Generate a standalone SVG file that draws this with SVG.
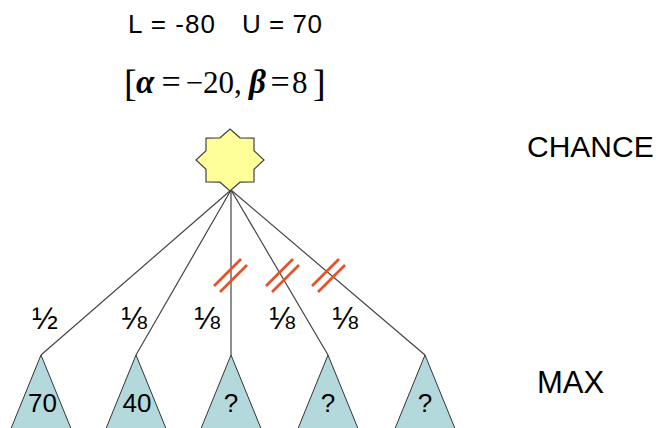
<svg xmlns="http://www.w3.org/2000/svg" width="665" height="428" viewBox="0 0 665 428">
<style>
.t{font-family:"Liberation Sans",Arial,sans-serif;fill:#000}
.m{font-family:"Liberation Serif","Times New Roman",serif;fill:#000;font-size:31px}
.g{font-style:italic;font-weight:bold;font-size:33px}
.eq{font-size:34px}
.edge{stroke:#444;stroke-width:1.2;fill:none}
.tri{fill:#b3d9dc;stroke:#333;stroke-width:1}
.cut{stroke:#e8502a;stroke-width:2.6;fill:none}
</style>
<rect width="665" height="428" fill="#fff"/>
<g id="header">
<text class="t" x="128" y="33" font-size="26" textLength="87" lengthAdjust="spacing">L = -80</text>
<text class="t" x="242" y="33" font-size="26" textLength="80" lengthAdjust="spacing">U = 70</text>
<g class="m">
<text x="124" y="96" font-size="38">[</text>
<text x="136" y="93" class="g">α</text>
<text x="171" y="93" class="eq" text-anchor="middle">=</text>
<text x="194.5" y="93" text-anchor="middle">−</text>
<text x="203" y="93">20,</text>
<text x="249" y="93" class="g">β</text>
<text x="280" y="93" class="eq" text-anchor="middle">=</text>
<text x="292" y="93">8</text>
<text x="313" y="96" font-size="38">]</text>
</g>
</g>
<g id="connectors">
<line class="edge" x1="231" y1="190" x2="41" y2="355"/>
<line class="edge" x1="231" y1="190" x2="136" y2="355"/>
<line class="edge" x1="231" y1="190" x2="231" y2="355"/>
<line class="edge" x1="231" y1="190" x2="328" y2="355"/>
<line class="edge" x1="231" y1="190" x2="425" y2="355"/>
</g>
<g id="cuts">
<line class="cut" x1="214" y1="286" x2="241" y2="259"/>
<line class="cut" x1="220" y1="292" x2="247" y2="265"/>
<line class="cut" x1="266" y1="286" x2="293" y2="259"/>
<line class="cut" x1="272" y1="292" x2="299" y2="265"/>
<line class="cut" x1="312" y1="286" x2="339" y2="259"/>
<line class="cut" x1="318" y1="292" x2="345" y2="265"/>
</g>
<g id="chance">
<polygon points="230,129 240,137.8 254,138.1 254,150.8 264,160 254,169.2 254,181.9 240,182.2 230,191 220,182.2 206,181.9 206,169.2 196,160 206,150.8 206,138.1 220,137.8" fill="#ffff99" stroke="#444" stroke-width="1.2"/>
</g>
<g id="probs" class="t" font-size="31">
<text x="32" y="329" class="t">½</text>
<text x="121" y="329" class="t">⅛</text>
<text x="194" y="329" class="t">⅛</text>
<text x="269" y="329" class="t">⅛</text>
<text x="332" y="329" class="t">⅛</text>
</g>
<g id="max1"><polygon class="tri" points="41,355 10,431 72,431"/><text class="t" x="42.5" y="412" font-size="26" text-anchor="middle">70</text></g>
<g id="max2"><polygon class="tri" points="136,355 105,431 167,431"/><text class="t" x="137" y="412" font-size="26" text-anchor="middle">40</text></g>
<g id="max3"><polygon class="tri" points="231,355 200,431 262,431"/><text class="t" x="231" y="412" font-size="26" text-anchor="middle">?</text></g>
<g id="max4"><polygon class="tri" points="328,355 297,431 359,431"/><text class="t" x="328" y="412" font-size="26" text-anchor="middle">?</text></g>
<g id="max5"><polygon class="tri" points="425,355 394,431 456,431"/><text class="t" x="425" y="412" font-size="26" text-anchor="middle">?</text></g>
<g id="labels">
<text class="t" x="527" y="157" font-size="30">CHANCE</text>
<text class="t" x="537" y="393" font-size="31">MAX</text>
</g>
</svg>
